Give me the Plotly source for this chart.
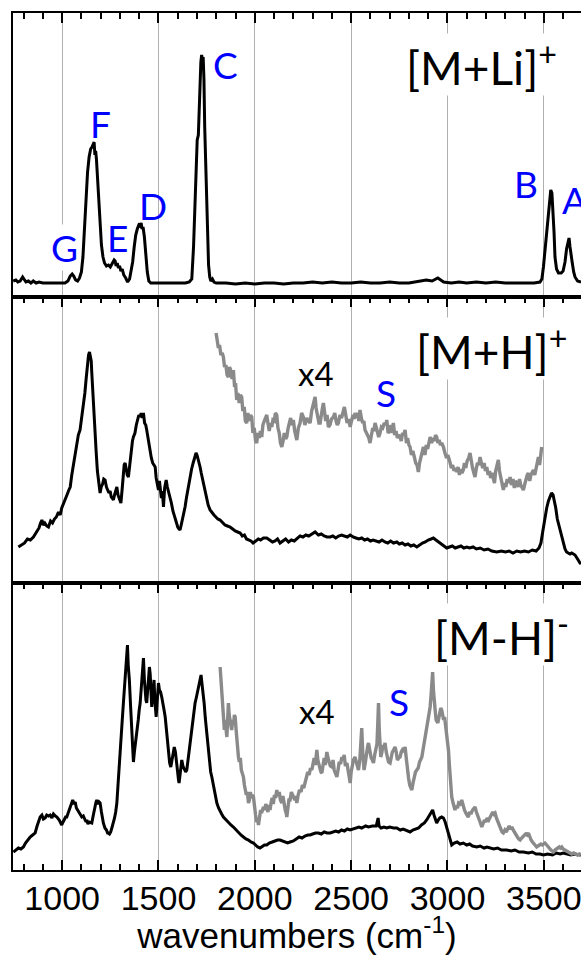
import plotly.graph_objects as go

# ---------------- data (wavenumber, intensity) ----------------
# [M+Li]+ spectrum (top panel)
li_spec = [(746,16),(760,17),(770,15),(782,16),(795,20),(803,18),(812,15),(825,16),(838,14),(850,16),(865,14),
 (880,15),(900,14),(930,14),(960,14),(990,14),(1015,14),(1030,16),(1042,21),(1052,23),(1060,21),(1070,17),
 (1080,16),(1090,19),(1100,25),(1108,40),(1116,70),(1124,100),(1132,125),(1140,140),(1148,148),(1155,150),
 (1161,152),(1166,155),(1170,142),(1174,146),(1178,138),(1184,118),(1190,95),(1197,72),(1204,52),(1212,40),
 (1220,34),(1230,31),(1240,32),(1250,30),(1258,33),(1265,34),(1270,37),(1275,36),(1280,31),(1286,34),(1292,29),
 (1298,31),(1305,26),(1312,28),(1320,22),(1330,19),(1340,15),(1350,18),(1358,25),(1366,35),(1374,50),(1382,62),
 (1390,68),(1398,72),(1404,71),(1410,74),(1415,68),(1420,70),(1427,60),(1434,42),(1442,25),(1450,16),(1460,14),
 (1500,14),(1550,14),(1600,14),(1640,14),(1660,15),(1673,18),(1682,50),(1690,97),(1697,150),(1701,157),(1707,162),
 (1712,195),(1716,218),(1720,235),(1724,242),(1728,238),(1732,240),(1736,218),(1740,170),(1744,140),(1748,105),
 (1752,80),(1756,55),(1760,32),(1766,20),(1772,16),(1780,18),(1788,15),(1800,14),(1850,14),(1900,13),(1950,14),
 (2000,13),(2050,14),(2100,14),(2150,13),(2200,14),(2250,14),(2300,15),(2350,14),(2400,15),(2450,14),(2500,14),
 (2550,15),(2600,14),(2650,14),(2700,15),(2750,14),(2800,14),(2850,16),(2890,17),(2920,16),(2950,19),(2980,15),
 (3020,14),(3060,15),(3100,14),(3150,15),(3200,14),(3250,15),(3300,14),(3350,14),(3400,14),(3450,14),(3480,15),
 (3490,18),(3498,30),(3506,47),(3514,62),(3524,80),(3530,98),(3536,107),(3542,104),(3548,88),(3553,65),(3558,40),
 (3566,28),(3576,24),(3590,24),(3600,26),(3610,35),(3618,48),(3624,55),(3631,59),(3636,50),(3641,45),(3647,35),
 (3655,25),(3662,20),(3675,16),(3693,15)]

# [M+H]+ spectrum (middle panel)
h_spec = [(773,36),(790,38),(805,40),(820,44),(835,43),(851,46),(862,50),(872,53),(880,55),(888,60),(895,63),
 (902,58),(910,60),(920,57),(929,56),(940,62),(950,60),(960,64),(970,66),(981,71),(990,68),(998,75),(1007,80),
 (1015,84),(1025,88),(1035,93),(1042,96),(1050,108),(1058,118),(1067,130),(1075,140),(1084,148),(1093,153),
 (1102,165),(1111,176),(1118,190),(1125,205),(1131,220),(1137,228),(1142,231),(1147,226),(1151,222),(1154,210),
 (1159,190),(1165,170),(1171,153),(1177,130),(1183,112),(1188,103),(1192,95),(1197,90),(1203,96),(1210,99),
 (1216,104),(1223,103),(1230,96),(1237,93),(1243,90),(1249,92),(1255,86),(1260,85),(1266,83),(1272,88),(1278,93),
 (1284,96),(1290,88),(1296,85),(1305,80),(1312,95),(1318,110),(1322,118),(1327,120),(1332,112),(1338,108),
 (1344,106),(1350,118),(1358,135),(1365,142),(1370,146),(1378,150),(1385,158),(1392,164),(1398,168),(1405,166),
 (1410,170),(1416,165),(1422,170),(1428,160),(1434,158),(1439,153),(1445,145),(1451,138),(1457,133),(1463,125),
 (1470,120),(1477,118),(1483,116),(1488,105),(1494,98),(1500,93),(1505,102),(1510,92),(1515,85),(1520,92),
 (1526,76),(1532,95),(1536,100),(1540,103),(1546,96),(1552,92),(1560,86),(1567,80),(1575,72),(1581,68),(1586,66),
 (1593,60),(1600,56),(1607,54),(1612,53),(1618,58),(1625,64),(1632,70),(1638,76),(1645,85),(1652,93),(1658,100),
 (1664,106),(1672,114),(1680,120),(1688,126),(1695,130),(1700,128),(1706,124),(1711,120),(1716,116),(1722,110),
 (1729,104),(1735,98),(1742,93),(1750,85),(1758,78),(1768,73),(1778,70),(1788,68),(1798,66),(1808,64),(1820,63),
 (1832,61),(1845,58),(1858,57),(1872,56),(1885,54),(1898,52),(1911,51),(1924,50),(1935,47),(1946,48),(1957,44),
 (1968,43),(1980,42),(1991,40),(2005,42),(2018,44),(2030,43),(2045,45),(2062,45),(2078,43),(2092,41),(2105,42),
 (2118,44),(2131,40),(2145,42),(2160,44),(2175,41),(2190,43),(2205,42),(2220,45),(2235,47),(2250,46),(2265,48),
 (2280,47),(2295,49),(2313,51),(2330,48),(2345,49),(2360,47),(2375,46),(2391,46),(2405,47),(2420,45),(2435,47),
 (2450,48),(2465,47),(2480,46),(2495,48),(2510,46),(2525,45),(2540,44),(2555,45),(2570,43),(2585,44),(2600,42),
 (2614,43),(2630,42),(2645,41),(2660,43),(2675,41),(2690,40),(2705,42),(2720,40),(2737,41),(2750,39),(2765,40),
 (2780,38),(2795,39),(2810,37),(2825,38),(2841,36),(2855,38),(2870,40),(2885,41),(2900,43),(2915,44),(2927,45),
 (2940,43),(2955,41),(2970,39),(2985,37),(2996,35),(3010,36),(3025,37),(3040,35),(3055,36),(3070,37),(3085,35),
 (3100,36),(3115,35),(3133,36),(3150,34),(3170,35),(3190,33),(3210,34),(3230,32),(3256,31),(3280,32),(3300,31),
 (3320,32),(3340,30),(3360,32),(3380,31),(3400,32),(3420,31),(3440,33),(3460,32),(3475,35),(3485,40),(3495,52),
 (3506,66),(3515,75),(3524,82),(3532,86),(3540,90),(3548,88),(3555,82),(3562,75),(3570,64),(3578,58),(3586,50),
 (3593,44),(3601,40),(3610,34),(3618,31),(3627,30),(3636,29),(3645,30),(3655,29),(3662,28),(3672,25),(3680,22),
 (3688,20),(3693,19)]

# [M+H]+ x4 magnified region (middle panel, gray)
h_x4 = [(1799,250),(1805,240),(1811,235),(1817,238),(1824,228),(1831,230),(1837,226),(1843,216),(1850,218),
 (1856,208),(1863,206),(1869,216),(1876,212),(1882,204),(1889,213),(1895,196),(1900,200),(1906,183),(1912,190),
 (1919,180),(1925,188),(1932,186),(1938,172),(1945,176),(1951,162),(1958,160),(1964,170),(1971,162),(1978,168),
 (1984,166),(1990,150),(1997,155),(2004,142),(2010,140),(2016,150),(2023,145),(2029,152),(2036,146),(2042,158),
 (2049,162),(2055,166),(2062,168),(2068,160),(2075,152),(2081,160),(2088,156),(2094,163),(2101,162),(2107,170),
 (2114,168),(2120,155),(2127,150),(2133,140),(2140,136),(2147,142),(2153,150),(2160,144),(2166,146),(2173,155),
 (2180,160),(2186,165),(2193,158),(2200,163),(2207,152),(2213,145),(2218,143),(2226,155),(2235,160),(2243,170),
 (2252,166),(2260,158),(2270,165),(2278,162),(2287,160),(2295,172),(2302,178),(2308,182),(2313,186),(2318,175),
 (2326,165),(2333,160),(2339,160),(2345,170),(2351,175),(2356,180),(2362,170),(2368,162),(2375,168),(2382,156),
 (2390,158),(2398,164),(2408,166),(2415,170),(2422,162),(2428,158),(2434,160),(2442,168),(2450,165),(2458,172),
 (2465,176),(2472,168),(2479,160),(2487,164),(2495,156),(2502,162),(2510,168),(2515,164),(2520,170),(2528,165),
 (2535,170),(2540,162),(2546,173),(2553,165),(2560,160),(2566,162),(2572,153),(2580,150),(2586,148),(2592,145),
 (2598,140),(2605,148),(2612,155),(2618,152),(2624,160),(2630,156),(2637,152),(2643,146),(2650,150),(2657,156),
 (2664,155),(2672,160),(2680,158),(2685,163),(2692,150),(2700,152),(2707,158),(2713,150),(2719,160),(2726,148),
 (2733,152),(2740,145),(2747,148),(2754,146),(2760,142),(2767,150),(2773,148),(2780,153),(2787,140),(2793,145),
 (2800,138),(2806,136),(2813,128),(2820,132),(2828,126),(2835,120),(2842,118),(2849,111),(2855,120),(2862,125),
 (2868,130),(2875,136),(2883,128),(2890,138),(2897,134),(2903,142),(2910,146),(2918,140),(2925,145),(2932,142),
 (2938,148),(2944,146),(2950,140),(2957,143),(2963,138),(2970,140),(2979,136),(2987,130),(2995,125),(3002,128),
 (3008,122),(3014,120),(3020,115),(3027,118),(3034,112),(3040,115),(3048,111),(3055,116),(3062,108),(3068,114),
 (3075,110),(3082,113),(3088,120),(3095,115),(3102,122),(3110,125),(3117,130),(3123,122),(3130,115),(3137,110),
 (3143,106),(3150,115),(3156,120),(3163,118),(3169,126),(3176,120),(3183,115),(3190,120),(3197,112),(3204,116),
 (3211,108),(3218,112),(3224,105),(3231,110),(3238,106),(3244,100),(3250,112),(3257,118),(3264,123),(3270,112),
 (3277,104),(3284,98),(3290,93),(3297,100),(3303,96),(3310,104),(3318,100),(3325,106),(3332,98),(3340,104),
 (3347,95),(3353,102),(3360,100),(3367,96),(3374,104),(3380,98),(3387,95),(3394,93),(3400,98),(3407,104),
 (3414,108),(3420,110),(3427,102),(3433,108),(3440,112),(3446,113),(3453,108),(3460,115),(3466,120),(3472,126),
 (3478,118),(3484,128),(3489,136)]

# [M-H]- spectrum (bottom panel)
mh_spec = [(747,18),(760,20),(773,22),(786,21),(799,23),(810,27),(822,30),(834,33),(847,35),(860,37),(870,44),
 (878,50),(886,53),(895,55),(903,51),(912,52),(920,55),(930,54),(938,55),(947,52),(955,56),(965,54),(973,53),
 (985,50),(992,47),(998,45),(1005,48),(1012,50),(1018,53),(1024,53),(1032,58),(1040,62),(1048,66),(1055,70),
 (1062,66),(1068,68),(1074,62),(1080,60),(1088,58),(1095,55),(1102,53),(1110,54),(1118,50),(1124,48),(1128,50),
 (1134,46),(1140,48),(1148,47),(1154,47),(1162,55),(1170,64),(1176,68),(1180,70),(1186,66),(1192,68),(1197,67),
 (1204,58),(1210,50),(1214,47),(1222,42),(1230,40),(1236,37),(1240,37),(1246,36),(1252,38),(1258,42),(1266,47),
 (1272,52),(1278,58),(1284,67),(1290,85),(1296,100),(1301,113),(1306,130),(1312,150),(1318,167),(1324,185),
 (1330,205),(1334,215),(1339,225),(1343,205),(1349,190),(1355,165),(1362,143),(1366,120),(1370,108),(1375,118),
 (1380,125),(1388,137),(1395,150),(1400,160),(1405,167),(1410,180),(1416,195),(1422,212),(1427,190),(1431,175),
 (1435,170),(1439,167),(1444,180),(1449,195),(1453,203),(1457,196),(1461,175),(1465,163),(1469,172),(1473,182),
 (1477,190),(1481,170),(1485,160),(1488,153),(1492,165),(1496,178),(1500,187),(1505,180),(1511,178),(1517,173),
 (1523,168),(1529,160),(1535,153),(1541,140),(1547,125),(1552,113),(1558,107),(1564,103),(1570,110),(1576,118),
 (1582,123),(1588,118),(1594,105),(1600,96),(1604,90),(1607,87),(1611,96),(1616,106),(1621,110),(1627,104),
 (1634,100),(1641,98),(1647,100),(1652,108),(1658,118),(1664,130),(1671,142),(1678,152),(1684,160),(1690,167),
 (1696,172),(1702,178),(1707,180),(1712,186),(1717,192),(1721,195),(1726,186),(1731,178),(1737,167),(1743,152),
 (1749,140),(1754,127),(1760,115),(1766,106),(1771,98),(1777,93),(1784,85),(1790,78),(1797,72),(1803,67),
 (1812,62),(1820,58),(1828,56),(1837,53),(1850,50),(1863,47),(1876,45),(1889,43),(1902,40),(1915,38),(1928,35),
 (1941,33),(1954,31),(1967,30),(1980,28),(1993,27),(2005,25),(2015,23),(2027,22),(2040,24),(2050,25),(2062,25),
 (2075,27),(2090,28),(2105,29),(2118,30),(2131,30),(2145,29),(2160,28),(2170,27),(2183,28),(2200,29),(2215,31),
 (2230,33),(2245,32),(2260,34),(2275,35),(2287,35),(2300,36),(2315,37),(2330,37),(2345,36),(2360,38),(2375,37),
 (2391,37),(2405,38),(2420,39),(2435,38),(2450,40),(2465,39),(2480,41),(2495,40),(2510,41),(2525,42),(2540,43),
 (2555,42),(2564,43),(2575,44),(2590,43),(2610,44),(2630,44),(2640,52),(2645,44),(2655,42),(2670,43),(2685,42),
 (2700,43),(2720,42),(2737,42),(2755,40),(2770,41),(2790,39),(2806,38),(2820,40),(2835,41),(2850,42),(2865,45),
 (2880,47),(2892,50),(2905,54),(2915,57),(2923,60),(2930,55),(2937,50),(2944,47),(2952,50),(2960,52),(2970,53),
 (2979,52),(2988,48),(2996,42),(3005,37),(3012,31),(3022,25),(3035,27),(3050,28),(3065,26),(3082,27),(3100,25),
 (3115,26),(3130,24),(3152,23),(3170,24),(3190,22),(3205,23),(3221,22),(3240,21),(3260,22),(3280,20),(3308,20),
 (3330,19),(3350,20),(3372,18),(3394,18),(3420,17),(3440,18),(3460,16),(3480,16),(3498,15),(3520,16),(3545,15),
 (3565,17),(3585,16),(3601,17),(3620,16),(3640,15),(3660,16),(3680,15),(3693,15)]

# [M-H]- x4 magnified region (bottom panel, gray)
mh_x4 = [(1820,203),(1824,190),(1829,183),(1833,165),(1837,147),(1842,140),(1846,150),(1850,138),(1855,133),
 (1859,150),(1863,167),(1867,155),(1871,148),(1876,140),(1880,140),(1885,150),(1890,145),(1894,155),(1898,153),
 (1903,140),(1907,128),(1911,120),(1915,113),(1920,108),(1925,112),(1930,100),(1936,96),(1941,93),(1946,85),
 (1951,80),(1956,75),(1962,78),(1967,67),(1972,70),(1977,78),(1983,72),(1988,75),(1993,73),(1998,62),(2004,55),
 (2010,48),(2015,50),(2019,45),(2025,55),(2030,60),(2035,57),(2040,62),(2045,63),(2051,60),(2057,66),(2063,62),
 (2068,58),(2074,65),(2079,60),(2085,68),(2090,72),(2096,66),(2102,75),(2108,72),(2114,80),(2120,74),(2127,78),
 (2133,70),(2140,67),(2146,74),(2152,65),(2158,60),(2164,56),(2166,53),(2172,62),(2177,70),(2183,70),(2190,78),
 (2196,75),(2202,72),(2208,70),(2213,74),(2218,67),(2225,75),(2232,80),(2240,78),(2247,85),(2254,82),(2261,87),
 (2268,92),(2275,98),(2282,95),(2289,102),(2296,100),(2302,108),(2308,112),(2314,105),(2318,115),(2322,120),
 (2327,110),(2333,104),(2338,100),(2343,98),(2348,97),(2354,108),(2360,112),(2366,105),(2370,110),(2374,118),
 (2380,112),(2386,108),(2392,104),(2400,103),(2406,110),(2412,100),(2418,96),(2426,93),(2432,100),(2438,108),
 (2445,106),(2452,113),(2458,110),(2464,115),(2470,104),(2478,107),(2484,100),(2490,92),(2495,87),(2500,98),
 (2506,106),(2512,110),(2520,113),(2526,108),(2532,104),(2538,100),(2545,110),(2551,125),(2555,142),(2560,118),
 (2567,100),(2574,108),(2580,118),(2586,124),(2590,127),(2597,118),(2604,112),(2610,110),(2616,107),(2622,115),
 (2628,120),(2634,126),(2638,145),(2642,167),(2646,140),(2650,120),(2654,113),(2660,118),(2665,125),(2670,122),
 (2676,127),(2682,118),(2688,112),(2694,108),(2702,107),(2708,115),(2714,118),(2720,120),(2728,123),(2734,118),
 (2740,110),(2747,112),(2754,113),(2760,118),(2766,120),(2773,118),(2780,123),(2786,112),(2792,100),(2798,92),
 (2804,85),(2810,82),(2815,80),(2822,88),(2828,95),(2834,98),(2841,100),(2848,102),(2855,108),(2861,110),
 (2867,113),(2873,120),(2880,128),(2887,138),(2892,143),(2898,150),(2904,155),(2910,163),(2915,175),(2919,185),
 (2923,198),(2927,180),(2931,165),(2936,160),(2941,150),(2946,148),(2950,147),(2955,152),(2960,158),(2965,162),
 (2970,160),(2975,156),(2980,150),(2985,153),(2990,145),(2995,138),(3000,130),(3005,120),(3010,105),(3015,90),
 (3022,73),(3028,68),(3033,62),(3039,60),(3045,64),(3052,62),(3058,67),(3066,66),(3074,70),(3080,64),(3088,60),
 (3095,57),(3102,55),(3108,53),(3115,58),(3122,56),(3130,60),(3136,62),(3143,63),(3150,58),(3157,55),(3164,50),
 (3171,47),(3178,43),(3185,46),(3192,50),(3200,48),(3206,52),(3214,50),(3221,53),(3228,55),(3235,58),(3241,56),
 (3247,57),(3254,52),(3261,48),(3268,44),(3276,40),(3283,38),(3290,37),(3298,40),(3305,38),(3312,42),(3320,44),
 (3327,41),(3334,43),(3341,40),(3349,37),(3356,35),(3363,33),(3370,31),(3377,30),(3385,32),(3392,34),(3400,35),
 (3406,36),(3413,35),(3420,37),(3427,33),(3434,30),(3441,28),(3449,26),(3456,25),(3463,23),(3470,24),(3478,25),
 (3485,26),(3492,25),(3500,26),(3506,27),(3515,25),(3522,23),(3530,22),(3537,20),(3543,19),(3550,18),(3558,20),
 (3565,21),(3572,22),(3580,23),(3586,22),(3593,23),(3600,21),(3608,20),(3615,19),(3622,18),(3629,17),(3636,17),
 (3645,16),(3655,17),(3665,16),(3675,15),(3685,16),(3693,15)]

# peak labels: (text, wavenumber, intensity)
li_peaks = [("G", 1010, 50), ("F", 1197, 174), ("E", 1285, 60), ("D", 1472, 92),
            ("C", 1846, 233), ("B", 3408, 114), ("A", 3657, 98)]
h_marks = [("x4", 2318, 210, "black"), ("S", 2681, 190, "blue")]
mh_marks = [("x4", 2323, 159, "black"), ("S", 2749, 168, "blue")]
panel_names = ["[M+Li]<sup>+</sup>", "[M+H]<sup>+</sup>", "[M-H]<sup>-</sup>"]
panel_name_pos = [(3574, 233), (3626, 235), (3636, 235)]

x_range = [745, 3693]
tick_vals = [1000, 1500, 2000, 2500, 3000, 3500]
tick_text = ["1000", "1500", "2000", "2500", "3000", "3500"]
minor_tick_vals = [800, 900, 1100, 1200, 1300, 1400, 1600, 1700, 1800, 1900, 2100, 2200, 2300, 2400,
                   2600, 2700, 2800, 2900, 3100, 3200, 3300, 3400, 3600]
y_ranges = [[0, 284], [0, 286], [0, 287]]
domains = [[0.6686, 1.0], [0.3349, 0.6686], [0.0, 0.3349]]

# ---------------- figure ----------------
def unzip(pairs):
    return [p[0] for p in pairs], [p[1] for p in pairs]

BLACK = dict(color="black", width=3)
GRAY = dict(color="#8a8a8a", width=3.4)

fig = go.Figure()
x, y = unzip(li_spec)
fig.add_trace(go.Scatter(x=x, y=y, mode="lines", line=BLACK, xaxis="x", yaxis="y"))
x, y = unzip(h_spec)
fig.add_trace(go.Scatter(x=x, y=y, mode="lines", line=BLACK, xaxis="x2", yaxis="y2"))
x, y = unzip(h_x4)
fig.add_trace(go.Scatter(x=x, y=y, mode="lines", line=GRAY, xaxis="x2", yaxis="y2"))
x, y = unzip(mh_spec)
fig.add_trace(go.Scatter(x=x, y=y, mode="lines", line=BLACK, xaxis="x3", yaxis="y3"))
x, y = unzip(mh_x4)
fig.add_trace(go.Scatter(x=x, y=y, mode="lines", line=GRAY, xaxis="x3", yaxis="y3"))

def xaxis(i, bottom):
    d = dict(
        range=x_range, anchor="y" if i == 0 else f"y{i+1}",
        tickmode="array", tickvals=tick_vals, ticktext=tick_text,
        ticks="inside", ticklen=10, tickwidth=2, tickcolor="black",
        showline=True, linecolor="black", linewidth=2,
        showgrid=True, gridcolor="#b0b0b0", gridwidth=1, zeroline=False,
        minor=dict(tickmode="array", tickvals=minor_tick_vals, ticks="inside", ticklen=6,
                   tickwidth=2, tickcolor="black", showgrid=False),
        fixedrange=True,
    )
    if bottom:
        d.update(side="bottom", mirror="ticks", showticklabels=True, ticklabelstandoff=-3,
                 ticklabeloverflow="allow",
                 tickfont=dict(family="Liberation Sans, Arial", size=34, color="black"),
                 title=dict(text="wavenumbers (cm<sup>-1</sup>)", standoff=10,
                            font=dict(family="Liberation Sans, Arial", size=35, color="black")))
    else:
        d.update(side="top", mirror=True, showticklabels=False)
    if i > 0:
        d["matches"] = "x"
    return d

def yaxis(i):
    return dict(domain=domains[i], range=y_ranges[i], anchor="x" if i == 0 else f"x{i+1}",
                showline=True, linecolor="black", linewidth=2, mirror=False,
                showticklabels=False, ticks="", showgrid=False, zeroline=False, fixedrange=True)

annotations = []
LBL = "Lato, Open Sans, sans-serif"
for t, xv, yv in li_peaks:
    annotations.append(dict(text=t, x=xv, y=yv, xref="x", yref="y", showarrow=False,
                            font=dict(family=LBL, size=37, color="#0000ff"),
                            bgcolor="white" if t == "G" else None, borderpad=0))
for marks, ax in ((h_marks, "2"), (mh_marks, "3")):
    for t, xv, yv, c in marks:
        annotations.append(dict(text=t, x=xv, y=yv, xref="x" + ax, yref="y" + ax, showarrow=False,
                                font=dict(family=LBL, size=33 if t == "x4" else 37,
                                          color="black" if c == "black" else "#0000ff")))
for i, (name, (xv, yv)) in enumerate(zip(panel_names, panel_name_pos)):
    suf = "" if i == 0 else str(i + 1)
    annotations.append(dict(text=name, x=xv, y=yv, xref="x" + suf, yref="y" + suf,
                            xanchor="right", yanchor="middle", showarrow=False,
                            bgcolor="white", borderpad=0,
                            font=dict(family=LBL, size=46, color="black")))

fig.update_layout(
    width=581, height=955,
    margin=dict(l=13, r=0, t=13, b=85),
    paper_bgcolor="white", plot_bgcolor="white",
    showlegend=False,
    xaxis=xaxis(0, False), xaxis2=xaxis(1, False), xaxis3=xaxis(2, True),
    yaxis=yaxis(0), yaxis2=yaxis(1), yaxis3=yaxis(2),
    annotations=annotations,
)

fig.write_html("out.html", config={"displayModeBar": False})
